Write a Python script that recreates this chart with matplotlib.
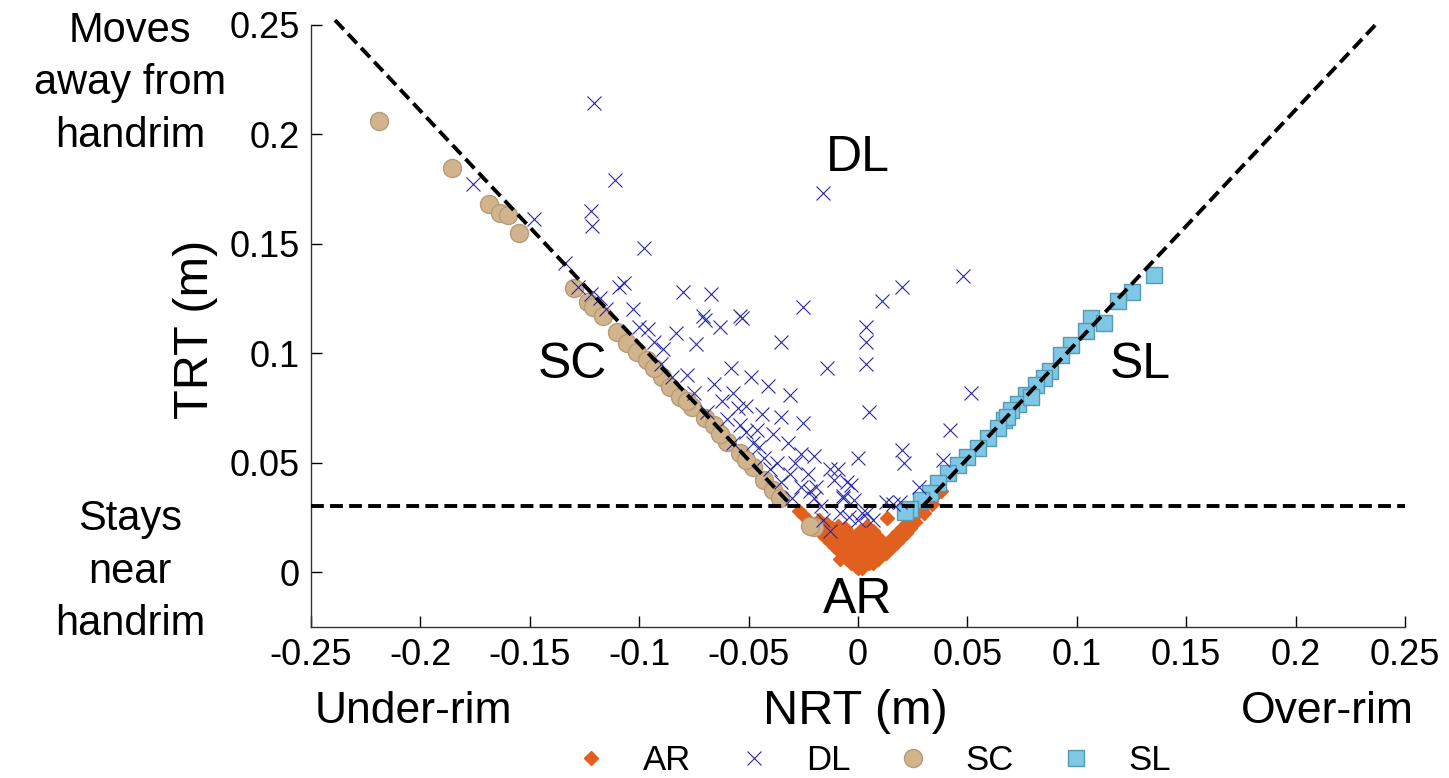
import numpy as np
import matplotlib
matplotlib.use('Agg')
import matplotlib.pyplot as plt

plt.rcParams['font.family'] = ['Liberation Sans', 'DejaVu Sans']

# AR : stays near the handrim
ar_x = [-0.027, -0.025, -0.023, -0.021, -0.019, -0.017, -0.015, -0.013, -0.011, -0.009,
        -0.007, -0.005, -0.003, -0.001, -0.010, -0.008, -0.006, -0.004, -0.002, 0.000,
        0.002, 0.004, -0.006, 0.006, 0.008, 0.010, -0.003, 0.001, 0.003, 0.005,
        0.000, 0.002, -0.012, -0.014, 0.004, 0.006, 0.008, 0.010, 0.012, 0.014,
        0.016, 0.018, 0.020, 0.022, 0.024, 0.026, 0.028, 0.030, 0.032, 0.034,
        0.036, 0.038, 0.012, 0.016, 0.020, 0.024, 0.009, 0.0135, -0.018, -0.002,
        0.003, 0.007, -0.008, 0.001, -0.008, -0.005, -0.002, 0.001, 0.004, 0.007,
        0.009, 0.011, 0.013, 0.002, -0.001, 0.005, -0.004, 0.007, 0.000, -0.009,
        0.003, 0.006, -0.006, 0.010, 0.018, 0.022, 0.026, 0.030, 0.034]
ar_y = [0.028, 0.026, 0.024, 0.022, 0.020, 0.018, 0.016, 0.014, 0.012, 0.010,
        0.008, 0.006, 0.004, 0.003, 0.016, 0.018, 0.020, 0.015, 0.012, 0.010,
        0.013, 0.017, 0.012, 0.010, 0.012, 0.008, 0.008, 0.006, 0.005, 0.004,
        0.002, 0.002, 0.020, 0.022, 0.005, 0.006, 0.008, 0.010, 0.012, 0.014,
        0.016, 0.018, 0.020, 0.022, 0.024, 0.026, 0.028, 0.030, 0.032, 0.034,
        0.036, 0.037, 0.009, 0.012, 0.016, 0.020, 0.006, 0.0247, 0.024, 0.007,
        0.009, 0.004, 0.006, 0.015, 0.013, 0.010, 0.016, 0.019, 0.021, 0.016,
        0.014, 0.011, 0.009, 0.008, 0.005, 0.013, 0.018, 0.019, 0.014, 0.021,
        0.010, 0.007, 0.016, 0.015, 0.014, 0.018, 0.023, 0.027, 0.031]

# DL
dl_x = [-0.1205, -0.176, -0.111, -0.122, -0.1215, -0.148, -0.098, -0.134, -0.109, -0.107,
        -0.128, -0.122, -0.103, -0.067, -0.0707, -0.118, -0.115, -0.016, -0.054, -0.025,
        0.011, 0.020, 0.048, -0.080, -0.070, -0.063, -0.053, -0.096, -0.083, -0.093,
        -0.089, -0.074, -0.035, -0.058, -0.049, -0.041, -0.031, -0.085, -0.078, -0.057,
        -0.075, -0.055, -0.051, -0.069, -0.035, -0.025, -0.054, -0.051, -0.046, -0.039,
        -0.057, -0.048, -0.045, -0.032, -0.026, -0.043, -0.037, -0.029, -0.020, -0.040,
        -0.031, -0.023, -0.035, -0.026, -0.022, -0.030, -0.020, 0.0035, 0.0035, 0.0035,
        -0.014, 0.0515, 0.005, 0.042, 0.020, 0.021, 0.000, 0.039, -0.013, -0.009,
        -0.005, -0.003, -0.019, -0.007, -0.002, 0.028, 0.013, 0.019, -0.017, 0.002,
        -0.008, -0.016, -0.004, 0.000, 0.004, 0.007, 0.016, -0.013, -0.011, -0.007,
        -0.100, -0.090, -0.066, -0.062, -0.044, -0.060]
dl_y = [0.214, 0.177, 0.179, 0.165, 0.158, 0.161, 0.148, 0.141, 0.130, 0.132,
        0.130, 0.127, 0.120, 0.127, 0.117, 0.125, 0.120, 0.173, 0.117, 0.121,
        0.124, 0.130, 0.135, 0.128, 0.115, 0.112, 0.116, 0.111, 0.109, 0.105,
        0.102, 0.104, 0.105, 0.093, 0.089, 0.085, 0.081, 0.089, 0.090, 0.082,
        0.082, 0.075, 0.076, 0.073, 0.071, 0.068, 0.067, 0.064, 0.065, 0.063,
        0.059, 0.059, 0.057, 0.059, 0.054, 0.052, 0.050, 0.050, 0.053, 0.047,
        0.045, 0.045, 0.041, 0.039, 0.037, 0.034, 0.034, 0.112, 0.105, 0.095,
        0.093, 0.082, 0.073, 0.065, 0.056, 0.050, 0.052, 0.051, 0.047, 0.047,
        0.041, 0.040, 0.039, 0.035, 0.033, 0.039, 0.032, 0.032, 0.030, 0.027,
        0.027, 0.024, 0.025, 0.024, 0.027, 0.024, 0.031, 0.019, 0.042, 0.034,
        0.112, 0.095, 0.086, 0.078, 0.072, 0.070]

# SC
sc_x = [-0.219, -0.1855, -0.1685, -0.1635, -0.160, -0.155, -0.130, -0.1233, -0.121, -0.1165,
        -0.110, -0.1055, -0.101, -0.0963, -0.0895, -0.0858, -0.0812, -0.0757, -0.0698, -0.066,
        -0.0597, -0.0538, -0.0478, -0.043, -0.0387, -0.0355, -0.020, -0.022, -0.093, -0.078,
        -0.063, -0.051]
sc_y = [0.206, 0.1845, 0.168, 0.164, 0.163, 0.155, 0.1297, 0.1233, 0.121, 0.117,
        0.1096, 0.1046, 0.1005, 0.0968, 0.089, 0.0845, 0.080, 0.0753, 0.0703, 0.067,
        0.0594, 0.0543, 0.048, 0.042, 0.0374, 0.034, 0.0205, 0.021, 0.093, 0.078,
        0.063, 0.051]

# SL
sl_x = [0.1352, 0.1251, 0.119, 0.1064, 0.1123, 0.104, 0.0972, 0.0926, 0.088, 0.0849,
        0.0812, 0.0766, 0.073, 0.0698, 0.0666, 0.079, 0.068, 0.0638, 0.0593, 0.0547,
        0.050, 0.0455, 0.041, 0.0364, 0.033, 0.0286, 0.024, 0.0217]
sl_y = [0.1356, 0.128, 0.124, 0.116, 0.1137, 0.110, 0.1037, 0.099, 0.092, 0.0886,
        0.0854, 0.0808, 0.0767, 0.074, 0.0694, 0.080, 0.0708, 0.0658, 0.0612, 0.0566,
        0.0525, 0.0489, 0.0452, 0.0406, 0.036, 0.0329, 0.029, 0.0274]

# boundary lines
left_line_x = [-0.239, -0.030]
left_line_y = [0.252, 0.030]
right_line_x = [0.0295, 0.2376]
right_line_y = [0.030, 0.251]
thresh = 0.03

xticks = [-0.25, -0.2, -0.15, -0.1, -0.05, 0, 0.05, 0.1, 0.15, 0.2, 0.25]
xticklabels = ['-0.25', '-0.2', '-0.15', '-0.1', '-0.05', '0', '0.05', '0.1', '0.15', '0.2', '0.25']
yticks = [0, 0.05, 0.1, 0.15, 0.2, 0.25]
yticklabels = ['0', '0.05', '0.1', '0.15', '0.2', '0.25']

fig = plt.figure(figsize=(14.49, 7.78), dpi=100)
ax = fig.add_axes([0.2146, 0.1941, 0.755, 0.7744])

h_ar, = ax.plot(ar_x, ar_y, 'D', ms=7, color='#E1601F', mec='#E1601F', zorder=2)
h_sc, = ax.plot(sc_x, sc_y, 'o', ms=13, color='#D2B48C', mec='#B39B7C', mew=1, zorder=2)
h_sl, = ax.plot(sl_x, sl_y, 's', ms=12, color='#7EC8E6', mec='#5599B2', mew=1, zorder=2)
h_dl, = ax.plot(dl_x, dl_y, 'x', ms=10, mew=0.8, color='#2828A8', zorder=3)

dash = (0, (3.3, 1.6))
ax.plot([-0.25, 0.25], [thresh, thresh], color='black', lw=2.8, ls=dash, zorder=4, clip_on=False)
ax.plot(left_line_x, left_line_y, color='black', lw=2.8, ls=dash, zorder=4, clip_on=False)
ax.plot(right_line_x, right_line_y, color='black', lw=2.8, ls=dash, zorder=4, clip_on=False)

ax.set_xlim(-0.25, 0.25)
ax.set_ylim(-0.025, 0.25)
ax.set_xticks(xticks)
ax.set_xticklabels(xticklabels)
ax.set_yticks(yticks)
ax.set_yticklabels(yticklabels)
ax.tick_params(direction='in', length=8, width=1, labelsize=26, pad=8)
for s in ['top', 'right']:
    ax.spines[s].set_visible(False)
for s in ['left', 'bottom']:
    ax.spines[s].set_linewidth(1)
    ax.spines[s].set_color('#333333')

# region labels
ax.text(0.0, 0.189, 'DL', fontsize=36, ha='center', va='center')
ax.text(-0.1306, 0.0945, 'SC', fontsize=36, ha='center', va='center')
ax.text(0.129, 0.0945, 'SL', fontsize=36, ha='center', va='center')
ax.text(0.0, -0.0128, 'AR', fontsize=36, ha='center', va='center')

fig.text(0.0897, 0.893, 'Moves\naway from\nhandrim', fontsize=30, ha='center', va='center', linespacing=1.4)
fig.text(0.0897, 0.265, 'Stays\nnear\nhandrim', fontsize=30, ha='center', va='center', linespacing=1.4)
fig.text(0.1346, 0.576, 'TRT (m)', fontsize=35, rotation=90, ha='center', va='center')
fig.text(0.590, 0.085, 'NRT (m)', fontsize=35, ha='center', va='center')
fig.text(0.285, 0.085, 'Under-rim', fontsize=32, ha='center', va='center')
fig.text(0.916, 0.085, 'Over-rim', fontsize=32, ha='center', va='center')

fig.legend([h_ar, h_dl, h_sc, h_sl], ['AR', 'DL', 'SC', 'SL'], loc='center',
           bbox_to_anchor=(0.596, 0.022), ncol=4, frameon=False, fontsize=25,
           handletextpad=0.5, columnspacing=0.8, borderpad=0, borderaxespad=0)

fig.savefig('out.png', dpi=100)
